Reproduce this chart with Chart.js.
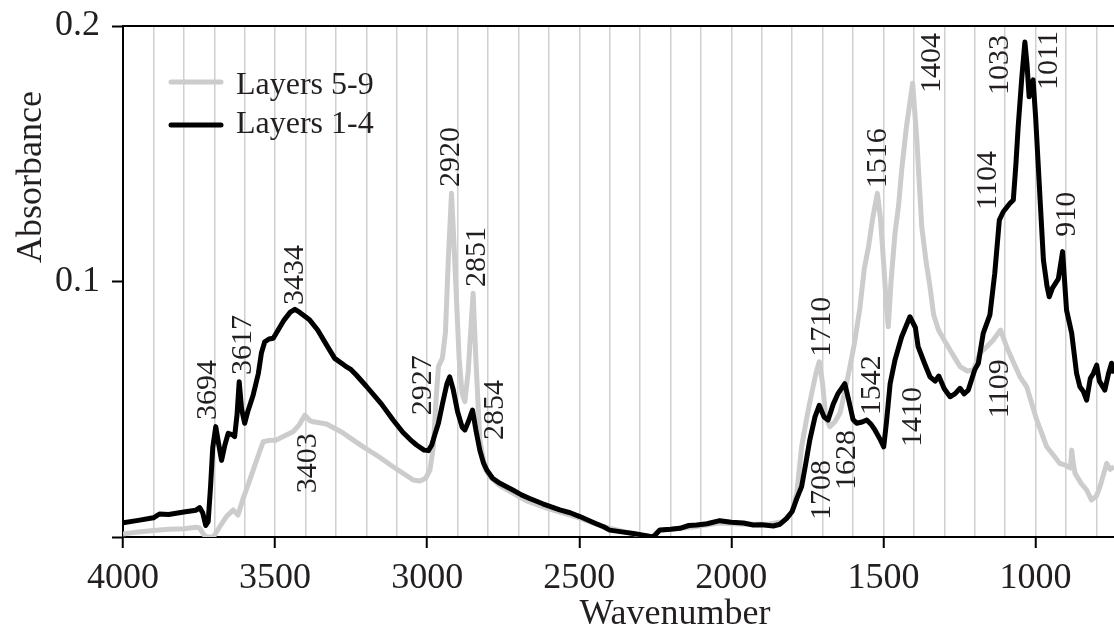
<!DOCTYPE html>
<html>
<head>
<meta charset="utf-8">
<script src="https://cdn.jsdelivr.net/npm/chart.js@4.4.0/dist/chart.umd.min.js"></script>
<style>
  html, body { margin: 0; padding: 0; background: #fff; }
  #wrap { width: 1114px; height: 629px; position: relative; }
</style>
</head>
<body>
<div id="wrap"><canvas id="spectrum"></canvas></div>
<script>
// Layers 1-4 (black trace)
const layers14Wavenumber = [4000, 3950, 3900, 3880, 3850, 3800, 3760, 3748, 3738, 3728, 3720, 3712, 3705, 3695, 3685, 3676, 3665, 3654, 3640, 3633, 3625, 3618, 3610, 3600, 3590, 3572, 3555, 3545, 3534, 3520, 3506, 3490, 3470, 3450, 3435, 3420, 3400, 3386, 3360, 3330, 3304, 3270, 3250, 3233, 3200, 3150, 3112, 3080, 3050, 3035, 3010, 2996, 2985, 2975, 2963, 2950, 2935, 2926, 2915, 2900, 2885, 2876, 2865, 2851, 2840, 2827, 2815, 2804, 2785, 2761, 2720, 2690, 2663, 2620, 2564, 2530, 2498, 2450, 2420, 2400, 2360, 2322, 2280, 2257, 2245, 2235, 2200, 2169, 2140, 2114, 2080, 2038, 2000, 1960, 1928, 1900, 1862, 1840, 1818, 1800, 1785, 1769, 1755, 1742, 1725, 1711, 1695, 1682, 1665, 1650, 1627, 1615, 1600, 1588, 1570, 1555, 1540, 1528, 1510, 1499, 1490, 1478, 1462, 1440, 1413, 1395, 1386, 1365, 1347, 1330, 1318, 1300, 1281, 1265, 1248, 1235, 1221, 1200, 1188, 1172, 1150, 1134, 1119, 1106, 1084, 1073, 1065, 1057, 1045, 1035, 1028, 1021, 1015, 1008, 1000, 992, 984, 974, 962, 955, 944, 936, 925, 911, 898, 881, 865, 854, 843, 832, 820, 810, 799, 790, 772, 760, 750, 742];
const layers14Absorbance = [0.0056, 0.0065, 0.0075, 0.0090, 0.0088, 0.0098, 0.0105, 0.0115, 0.0095, 0.0045, 0.0060, 0.0200, 0.0350, 0.0432, 0.0360, 0.0300, 0.0360, 0.0406, 0.0400, 0.0393, 0.0480, 0.0608, 0.0500, 0.0445, 0.0490, 0.0556, 0.0640, 0.0720, 0.0764, 0.0775, 0.0778, 0.0810, 0.0850, 0.0880, 0.0891, 0.0880, 0.0862, 0.0849, 0.0810, 0.0750, 0.0699, 0.0670, 0.0655, 0.0634, 0.0590, 0.0520, 0.0458, 0.0410, 0.0375, 0.0360, 0.0340, 0.0338, 0.0360, 0.0400, 0.0445, 0.0520, 0.0600, 0.0627, 0.0580, 0.0490, 0.0430, 0.0419, 0.0450, 0.0497, 0.0420, 0.0340, 0.0290, 0.0262, 0.0230, 0.0210, 0.0185, 0.0165, 0.0151, 0.0130, 0.0106, 0.0095, 0.0080, 0.0055, 0.0040, 0.0027, 0.0020, 0.0014, 0.0005, 0.0000, 0.0015, 0.0027, 0.0030, 0.0034, 0.0045, 0.0047, 0.0052, 0.0064, 0.0058, 0.0055, 0.0047, 0.0048, 0.0043, 0.0050, 0.0073, 0.0100, 0.0150, 0.0197, 0.0290, 0.0380, 0.0470, 0.0515, 0.0470, 0.0458, 0.0520, 0.0560, 0.0600, 0.0540, 0.0460, 0.0445, 0.0450, 0.0458, 0.0440, 0.0419, 0.0380, 0.0353, 0.0450, 0.0600, 0.0693, 0.0784, 0.0862, 0.0820, 0.0745, 0.0680, 0.0627, 0.0610, 0.0630, 0.0580, 0.0549, 0.0560, 0.0582, 0.0560, 0.0575, 0.0654, 0.0680, 0.0797, 0.0869, 0.1032, 0.1240, 0.1273, 0.1306, 0.1319, 0.1450, 0.1606, 0.1800, 0.1937, 0.1850, 0.1723, 0.1770, 0.1789, 0.1650, 0.1476, 0.1300, 0.1084, 0.0980, 0.0940, 0.0975, 0.0990, 0.1010, 0.1117, 0.0888, 0.0797, 0.0640, 0.0588, 0.0570, 0.0536, 0.0620, 0.0640, 0.0673, 0.0610, 0.0575, 0.0640, 0.0680, 0.0640];

// Layers 5-9 (grey trace)
const layers59Wavenumber = [4000, 3950, 3900, 3850, 3800, 3760, 3748, 3735, 3726, 3703, 3690, 3682, 3660, 3638, 3622, 3605, 3590, 3572, 3555, 3539, 3520, 3496, 3470, 3441, 3420, 3402, 3385, 3374, 3331, 3280, 3250, 3210, 3160, 3112, 3080, 3046, 3024, 3005, 2991, 2980, 2970, 2963, 2950, 2940, 2930, 2920, 2910, 2895, 2885, 2876, 2865, 2849, 2840, 2827, 2810, 2794, 2760, 2717, 2670, 2600, 2500, 2420, 2350, 2290, 2260, 2240, 2200, 2120, 2040, 1960, 1880, 1830, 1800, 1785, 1769, 1750, 1736, 1722, 1711, 1700, 1690, 1676, 1660, 1643, 1625, 1610, 1595, 1577, 1563, 1549, 1535, 1520, 1510, 1500, 1490, 1484, 1475, 1462, 1450, 1440, 1425, 1404, 1390, 1374, 1360, 1347, 1335, 1319, 1300, 1281, 1265, 1248, 1225, 1204, 1183, 1160, 1139, 1115, 1095, 1075, 1051, 1029, 996, 963, 941, 920, 900, 885, 881, 876, 870, 850, 832, 816, 800, 788, 766, 755, 742];
const layers59Absorbance = [0.0012, 0.0020, 0.0025, 0.0030, 0.0032, 0.0038, 0.0035, 0.0010, 0.0000, 0.0000, 0.0025, 0.0040, 0.0080, 0.0106, 0.0086, 0.0151, 0.0200, 0.0262, 0.0320, 0.0373, 0.0378, 0.0380, 0.0395, 0.0412, 0.0440, 0.0477, 0.0455, 0.0451, 0.0442, 0.0410, 0.0385, 0.0353, 0.0315, 0.0275, 0.0250, 0.0223, 0.0219, 0.0230, 0.0262, 0.0350, 0.0550, 0.0667, 0.0700, 0.0800, 0.1100, 0.1345, 0.1100, 0.0700, 0.0560, 0.0530, 0.0650, 0.0954, 0.0700, 0.0380, 0.0270, 0.0236, 0.0200, 0.0171, 0.0140, 0.0110, 0.0075, 0.0040, 0.0020, 0.0005, 0.0000, 0.0025, 0.0030, 0.0040, 0.0055, 0.0050, 0.0050, 0.0060, 0.0100, 0.0170, 0.0353, 0.0480, 0.0562, 0.0640, 0.0686, 0.0600, 0.0470, 0.0432, 0.0450, 0.0484, 0.0580, 0.0667, 0.0760, 0.0900, 0.1050, 0.1136, 0.1250, 0.1345, 0.1250, 0.1084, 0.0900, 0.0823, 0.1000, 0.1189, 0.1300, 0.1436, 0.1600, 0.1776, 0.1550, 0.1214, 0.1080, 0.0980, 0.0870, 0.0810, 0.0770, 0.0732, 0.0700, 0.0667, 0.0650, 0.0654, 0.0719, 0.0745, 0.0771, 0.0810, 0.0745, 0.0690, 0.0627, 0.0588, 0.0458, 0.0353, 0.0320, 0.0288, 0.0280, 0.0270, 0.0340, 0.0290, 0.0249, 0.0210, 0.0184, 0.0145, 0.0160, 0.0197, 0.0288, 0.0265, 0.0275];

// peak labels: text, wavenumber and absorbance where the rotated text starts
const peakTexts = ['3694', '3617', '3434', '3403', '2927', '2920', '2851', '2854', '1710', '1708', '1628', '1542', '1516', '1410', '1404', '1104', '1109', '1033', '1011', '910'];
const peakWavenumbers = [3719, 3605, 3433, 3393, 3014, 2920, 2837, 2775, 1703, 1703, 1618, 1538, 1519, 1404, 1339, 1157, 1118, 1117, 954, 895];
const peakHeights = [0.0458, 0.0634, 0.0908, 0.0171, 0.0477, 0.1370, 0.0978, 0.0380, 0.0705, 0.0067, 0.0184, 0.0477, 0.1365, 0.0352, 0.1738, 0.1280, 0.0465, 0.1730, 0.1750, 0.1175];

const seriesNames = ['Layers 1-4', 'Layers 5-9'];
const seriesColors = ['#000000', '#cccccc'];

const xMin = 742, xMax = 4000, xGridStep = 100, xLabelStep = 500;
const yMin = 0, yMax = 0.2, yStep = 0.1;

const serif = '"Liberation Serif", "Times New Roman", serif';

function toPoints(xs, ys) {
    return xs.map((x, i) => ({x: x, y: ys[i]}));
}

// titles, legend and peak labels
const extraText = {
    id: 'extraText',
    afterDatasetsDraw(chart) {
        const {ctx, chartArea} = chart;
        const xs = chart.scales.x, ys = chart.scales.y;
        ctx.save();
        ctx.fillStyle = '#231f20';

        // peak labels, rotated
        ctx.font = '30px ' + serif;
        ctx.textAlign = 'left';
        ctx.textBaseline = 'middle';
        peakTexts.forEach((t, i) => {
            ctx.save();
            ctx.translate(xs.getPixelForValue(peakWavenumbers[i]), ys.getPixelForValue(peakHeights[i]));
            ctx.rotate(-Math.PI / 2);
            ctx.fillText(t, 0, 0);
            ctx.restore();
        });

        // legend (Layers 5-9 first)
        ctx.font = '32px ' + serif;
        ctx.textBaseline = 'alphabetic';
        const legendRows = [[1, 82, 94], [0, 125, 133]];
        legendRows.forEach(([idx, lineY, textY]) => {
            ctx.strokeStyle = seriesColors[idx];
            ctx.lineWidth = 5;
            ctx.lineCap = 'round';
            ctx.beginPath();
            ctx.moveTo(chartArea.left + 48, lineY);
            ctx.lineTo(chartArea.left + 98, lineY);
            ctx.stroke();
            ctx.fillText(seriesNames[idx], chartArea.left + 113, textY);
        });

        // axis titles
        ctx.font = '36px ' + serif;
        ctx.textAlign = 'center';
        ctx.fillText('Wavenumber', 675, 624);
        ctx.save();
        ctx.translate(41, 177);
        ctx.rotate(-Math.PI / 2);
        ctx.fillText('Absorbance', 0, 0);
        ctx.restore();

        ctx.restore();
    }
};

const gridValues = [];
for (let v = xMax; v >= 800; v -= xGridStep) gridValues.push(v);

new Chart(document.getElementById('spectrum'), {
    type: 'line',
    data: {
        datasets: [
            {
                label: seriesNames[0],
                data: toPoints(layers14Wavenumber, layers14Absorbance),
                borderColor: seriesColors[0],
                borderWidth: 5,
                pointRadius: 0,
                tension: 0,
                borderJoinStyle: 'round'
            },
            {
                label: seriesNames[1],
                data: toPoints(layers59Wavenumber, layers59Absorbance),
                borderColor: seriesColors[1],
                borderWidth: 5,
                pointRadius: 0,
                tension: 0,
                borderJoinStyle: 'round'
            }
        ]
    },
    options: {
        responsive: true,
        maintainAspectRatio: false,
        animation: false,
        layout: { padding: { top: 26, right: 0, bottom: 0, left: 0 } },
        plugins: {
            legend: { display: false },
            tooltip: { enabled: false }
        },
        scales: {
            x: {
                type: 'linear',
                position: 'bottom',
                reverse: true,
                min: xMin,
                max: xMax,
                afterBuildTicks: scale => { scale.ticks = gridValues.map(v => ({value: v})); },
                afterFit: scale => { scale.height = 92; },
                ticks: {
                    autoSkip: false,
                    maxRotation: 0,
                    padding: 9,
                    color: '#231f20',
                    font: { family: serif, size: 36 },
                    callback: v => (v % xLabelStep === 0 ? String(v) : '')
                },
                grid: {
                    color: '#d0d0d0',
                    lineWidth: 1.5,
                    tickLength: 11,
                    tickWidth: 2,
                    tickColor: c => (c.tick && c.tick.value % xLabelStep === 0 ? '#000' : 'rgba(0,0,0,0)')
                },
                border: { color: '#000', width: 2 }
            },
            xTop: {
                type: 'linear',
                position: 'top',
                reverse: true,
                min: xMin,
                max: xMax,
                afterFit: scale => { scale.height = 0; },
                ticks: { display: false },
                grid: { drawOnChartArea: false, drawTicks: false },
                border: { color: '#000', width: 2 }
            },
            y: {
                min: yMin,
                max: yMax,
                afterFit: scale => { scale.width = 123; scale.paddingTop = 0; scale.paddingBottom = 0; },
                ticks: {
                    stepSize: yStep,
                    padding: 12,
                    color: '#231f20',
                    font: { family: serif, size: 36 },
                    callback: v => (v === 0 ? '' : String(Math.round(v * 10) / 10))
                },
                grid: {
                    drawOnChartArea: false,
                    tickLength: 11,
                    tickWidth: 2,
                    tickColor: '#000'
                },
                border: { color: '#000', width: 2 }
            }
        }
    },
    plugins: [extraText]
});
</script>
</body>
</html>
